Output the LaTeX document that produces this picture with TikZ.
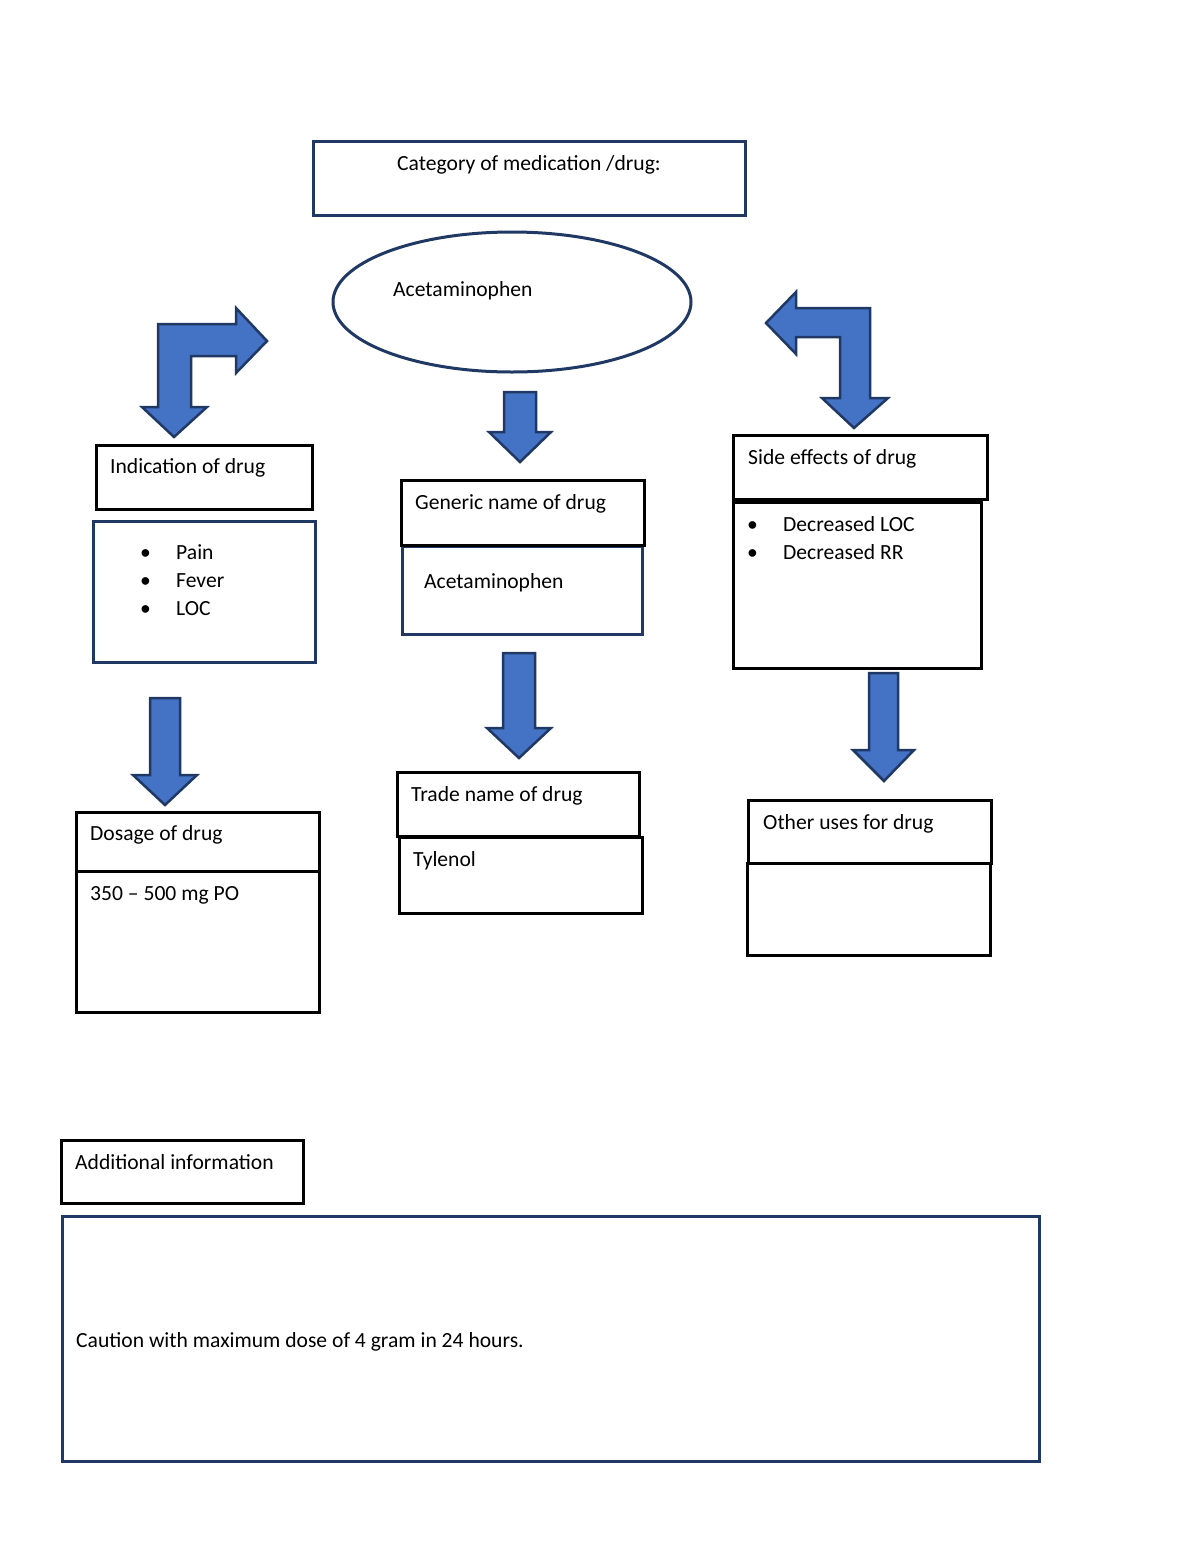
\documentclass[tikz,border=0pt]{standalone}
\usepackage{fontspec}
\setmainfont{Carlito}
\usetikzlibrary{shapes.geometric}
\definecolor{navy}{HTML}{203864}
\definecolor{arrowfill}{HTML}{4472C4}
\begin{document}
\begin{tikzpicture}[x=1pt,y=-1pt,
  hbox/.style={draw=black, line width=2.6pt, anchor=north west, inner sep=0pt},
  nbox/.style={draw=navy, line width=2.6pt, anchor=north west, inner sep=0pt},
  lbl/.style={anchor=base west, inner sep=0pt, font=\fontsize{21.6}{26}\selectfont},
  blockarrow/.style={fill=arrowfill, draw=navy, line width=2.5pt, line join=miter}]
\fill[white] (0,0) rectangle (1200,1553);
\useasboundingbox (0,0) rectangle (1200,1553);

% top
\node[nbox, minimum width=432, minimum height=74] (cat) at (312,140) {};
\node[lbl, anchor=base] (catT) at (529,170) {Category of medication /drug:};
\node[draw=navy, line width=3pt, ellipse, minimum width=358, minimum height=140, inner sep=0pt] (ell) at (512,302) {};
\node[lbl] (ellT) at (393,296) {Acetaminophen};

% bent arrows
\draw[blockarrow] (158,324) -- (236,324) -- (236,308) -- (267,341) -- (236,373) -- (236,356) -- (191,356) -- (191,407) -- (207,407) -- (174,437) -- (142,407) -- (158,407) -- cycle;
\draw[blockarrow] (870,308) -- (796,308) -- (796,292) -- (766,323) -- (796,354) -- (796,337) -- (840,337) -- (840,398) -- (822,398) -- (854,428) -- (888,398) -- (870,398) -- cycle;

% straight arrows
\draw[blockarrow] (504,392) -- (536,392) -- (536,432) -- (551,432) -- (520,462) -- (489,432) -- (504,432) -- cycle;
\draw[blockarrow] (503,653) -- (535,653) -- (535,728) -- (551,728) -- (519,758) -- (487,728) -- (503,728) -- cycle;
\draw[blockarrow] (150,698) -- (180,698) -- (180,775) -- (197,775) -- (165,805) -- (133,775) -- (150,775) -- cycle;
\draw[blockarrow] (869,673) -- (898,673) -- (898,750) -- (914,750) -- (884,781) -- (853,750) -- (869,750) -- cycle;

% indication
\node[hbox, minimum width=216, minimum height=64] (ind) at (95,444) {};
\node[lbl] (indT) at (110,473) {Indication of drug};
\node[nbox, minimum width=222, minimum height=141] (indC) at (92,520) {};
\node[lbl] (b1) at (140,559) {•};
\node[lbl] (i1) at (176,559) {Pain};
\node[lbl] (b2) at (140,587) {•};
\node[lbl] (i2) at (176,587) {Fever};
\node[lbl] (b3) at (140,615) {•};
\node[lbl] (i3) at (176,615) {LOC};

% generic
\node[nbox, minimum width=240, minimum height=88] (genC) at (401,545) {};
\node[hbox, minimum width=243, minimum height=65] (gen) at (400,479) {};
\node[lbl] (genT) at (415,509) {Generic name of drug};
\node[lbl] (genV) at (424,588) {Acetaminophen};

% side effects
\node[hbox, minimum width=248, minimum height=166] (sideC) at (732,501) {};
\node[hbox, minimum width=254, minimum height=64] (side) at (732,434) {};
\node[lbl] (sideT) at (748,464) {Side effects of drug};
\node[lbl] (s1b) at (747,531) {•};
\node[lbl] (s1) at (783,531) {Decreased LOC};
\node[lbl] (s2b) at (747,559) {•};
\node[lbl] (s2) at (783,559) {Decreased RR};

% dosage
\node[hbox, minimum width=243, minimum height=141] (dosC) at (75,870) {};
\node[hbox, minimum width=243, minimum height=59] (dos) at (75,811) {};
\node[lbl] (dosT) at (90,840) {Dosage of drug};
\node[lbl] (dosV) at (90,900) {350 – 500 mg PO};

% trade
\node[hbox, minimum width=243, minimum height=76] (traC) at (398,836) {};
\node[hbox, minimum width=242, minimum height=64] (tra) at (396,771) {};
\node[lbl] (traT) at (411,801) {Trade name of drug};
\node[lbl] (traV) at (413,866) {Tylenol};

% other uses
\node[hbox, minimum width=243, minimum height=92] (othC) at (746,862) {};
\node[hbox, minimum width=243, minimum height=63] (oth) at (747,799) {};
\node[lbl] (othT) at (763,829) {Other uses for drug};

% additional
\node[hbox, minimum width=242, minimum height=63] (add) at (60,1139) {};
\node[lbl] (addT) at (75,1169) {Additional information};
\node[nbox, minimum width=977, minimum height=245] (addC) at (61,1215) {};
\node[lbl] (addV) at (76,1347) {Caution with maximum dose of 4 gram in 24 hours.};
\end{tikzpicture}
\end{document}
